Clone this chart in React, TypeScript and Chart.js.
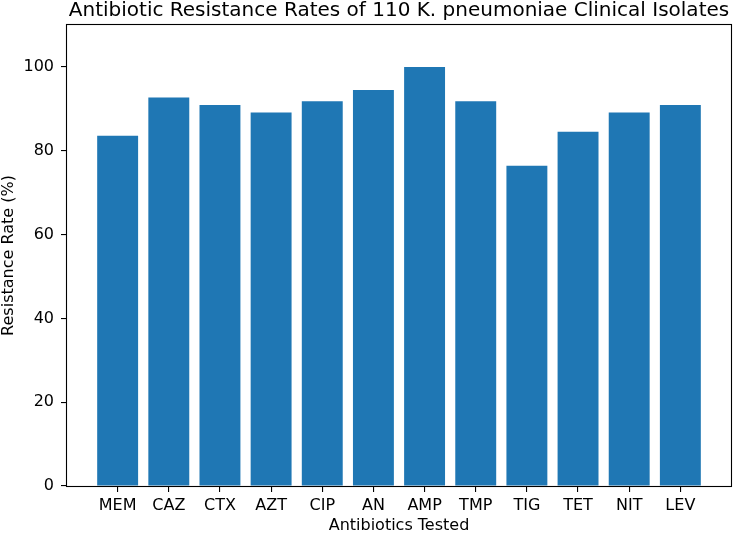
import React, { useEffect, useRef } from "react";
import { Chart, registerables } from "chart.js";

Chart.register(...registerables);

// Antibiotic abbreviations along the x axis
const ANTIBIOTICS = ["MEM", "CAZ", "CTX", "AZT", "CIP", "AN", "AMP", "TMP", "TIG", "TET", "NIT", "LEV"];
// Share of the 110 isolates that were resistant, in percent
const RESISTANCE = [83.6, 92.7, 90.9, 89.1, 91.8, 94.5, 100, 91.8, 76.4, 84.5, 89.1, 90.9];
// Y axis tick values
const Y_TICKS = [0, 20, 40, 60, 80, 100];

const TITLE = "Antibiotic Resistance Rates of 110 K. pneumoniae Clinical Isolates";
const X_LABEL = "Antibiotics Tested";
const Y_LABEL = "Resistance Rate (%)";

const BAR_COLOR = "#1f77b4";
const FONT = "DejaVu Sans";

// Draws a full frame (all four spines) around the plotting area
const framePlugin = {
  id: "frame",
  afterDatasetsDraw(chart: any) {
    const { ctx, chartArea } = chart;
    const l = Math.round(chartArea.left) - 0.5;
    const t = Math.round(chartArea.top) - 0.5;
    const r = Math.round(chartArea.right) + 0.5;
    const b = Math.round(chartArea.bottom) + 0.5;
    ctx.save();
    ctx.strokeStyle = "#000";
    ctx.lineWidth = 1.1;
    ctx.strokeRect(l, t, r - l, b - t);
    ctx.restore();
  },
};

export default function App() {
  const canvasRef = useRef<HTMLCanvasElement | null>(null);

  useEffect(() => {
    document.body.style.margin = "0";
    const canvas = canvasRef.current;
    if (!canvas) return;

    const n = ANTIBIOTICS.length;
    const span = n - 1 + 0.8;
    const margin = span * 0.05;

    const chart = new Chart(canvas, {
      type: "bar",
      data: {
        datasets: [
          {
            data: RESISTANCE.map((v, i) => ({ x: i, y: v })),
            backgroundColor: BAR_COLOR,
            borderWidth: 0,
            barPercentage: 0.8,
            categoryPercentage: 1,
          },
        ],
      },
      options: {
        responsive: false,
        animation: false,
        devicePixelRatio: 1,
        layout: { padding: { left: 0, right: 2, top: 0, bottom: 0 } },
        plugins: {
          legend: { display: false },
          tooltip: { enabled: false },
          title: {
            display: true,
            text: TITLE,
            fullSize: false,
            color: "#000",
            font: { family: FONT, size: 20, weight: "normal", lineHeight: 1.05 },
            padding: { top: 0, bottom: 4 },
          },
        },
        scales: {
          x: {
            type: "linear",
            min: -0.4 - margin,
            max: n - 1 + 0.4 + margin,
            offset: false,
            afterBuildTicks: (scale: any) => {
              scale.ticks = ANTIBIOTICS.map((_, i) => ({ value: i }));
            },
            afterFit: (scale: any) => {
              scale.height = 49;
            },
            ticks: {
              autoSkip: false,
              maxRotation: 0,
              color: "#000",
              padding: 4,
              font: { family: FONT, size: 16 },
              callback: (v: any) => ANTIBIOTICS[v] ?? "",
            },
            grid: {
              display: true,
              drawOnChartArea: false,
              drawTicks: true,
              tickLength: 6,
              color: "#000",
              lineWidth: 1.1,
              offset: false,
            },
            border: { display: false },
            title: {
              display: true,
              text: X_LABEL,
              color: "#000",
              font: { family: FONT, size: 16, lineHeight: 1.2 },
              padding: { top: 0, bottom: 0 },
            },
          },
          y: {
            type: "linear",
            min: 0,
            max: 110,
            afterBuildTicks: (scale: any) => {
              scale.ticks = Y_TICKS.map((v) => ({ value: v }));
            },
            afterFit: (scale: any) => {
              scale.width = 67;
            },
            ticks: {
              color: "#000",
              padding: 7,
              font: { family: FONT, size: 16 },
            },
            grid: {
              display: true,
              drawOnChartArea: false,
              drawTicks: true,
              tickLength: 6,
              color: "#000",
              lineWidth: 1.1,
            },
            border: { display: false },
            title: {
              display: true,
              text: Y_LABEL,
              color: "#000",
              font: { family: FONT, size: 16, lineHeight: 1 },
              padding: { top: 1, bottom: 0 },
            },
          },
        },
      },
      plugins: [framePlugin],
    } as any);

    return () => chart.destroy();
  }, []);

  return (
    <div style={{ position: "absolute", left: 0, top: 0, width: 733, height: 535, background: "#fff" }}>
      <canvas ref={canvasRef} width={733} height={535} />
    </div>
  );
}
